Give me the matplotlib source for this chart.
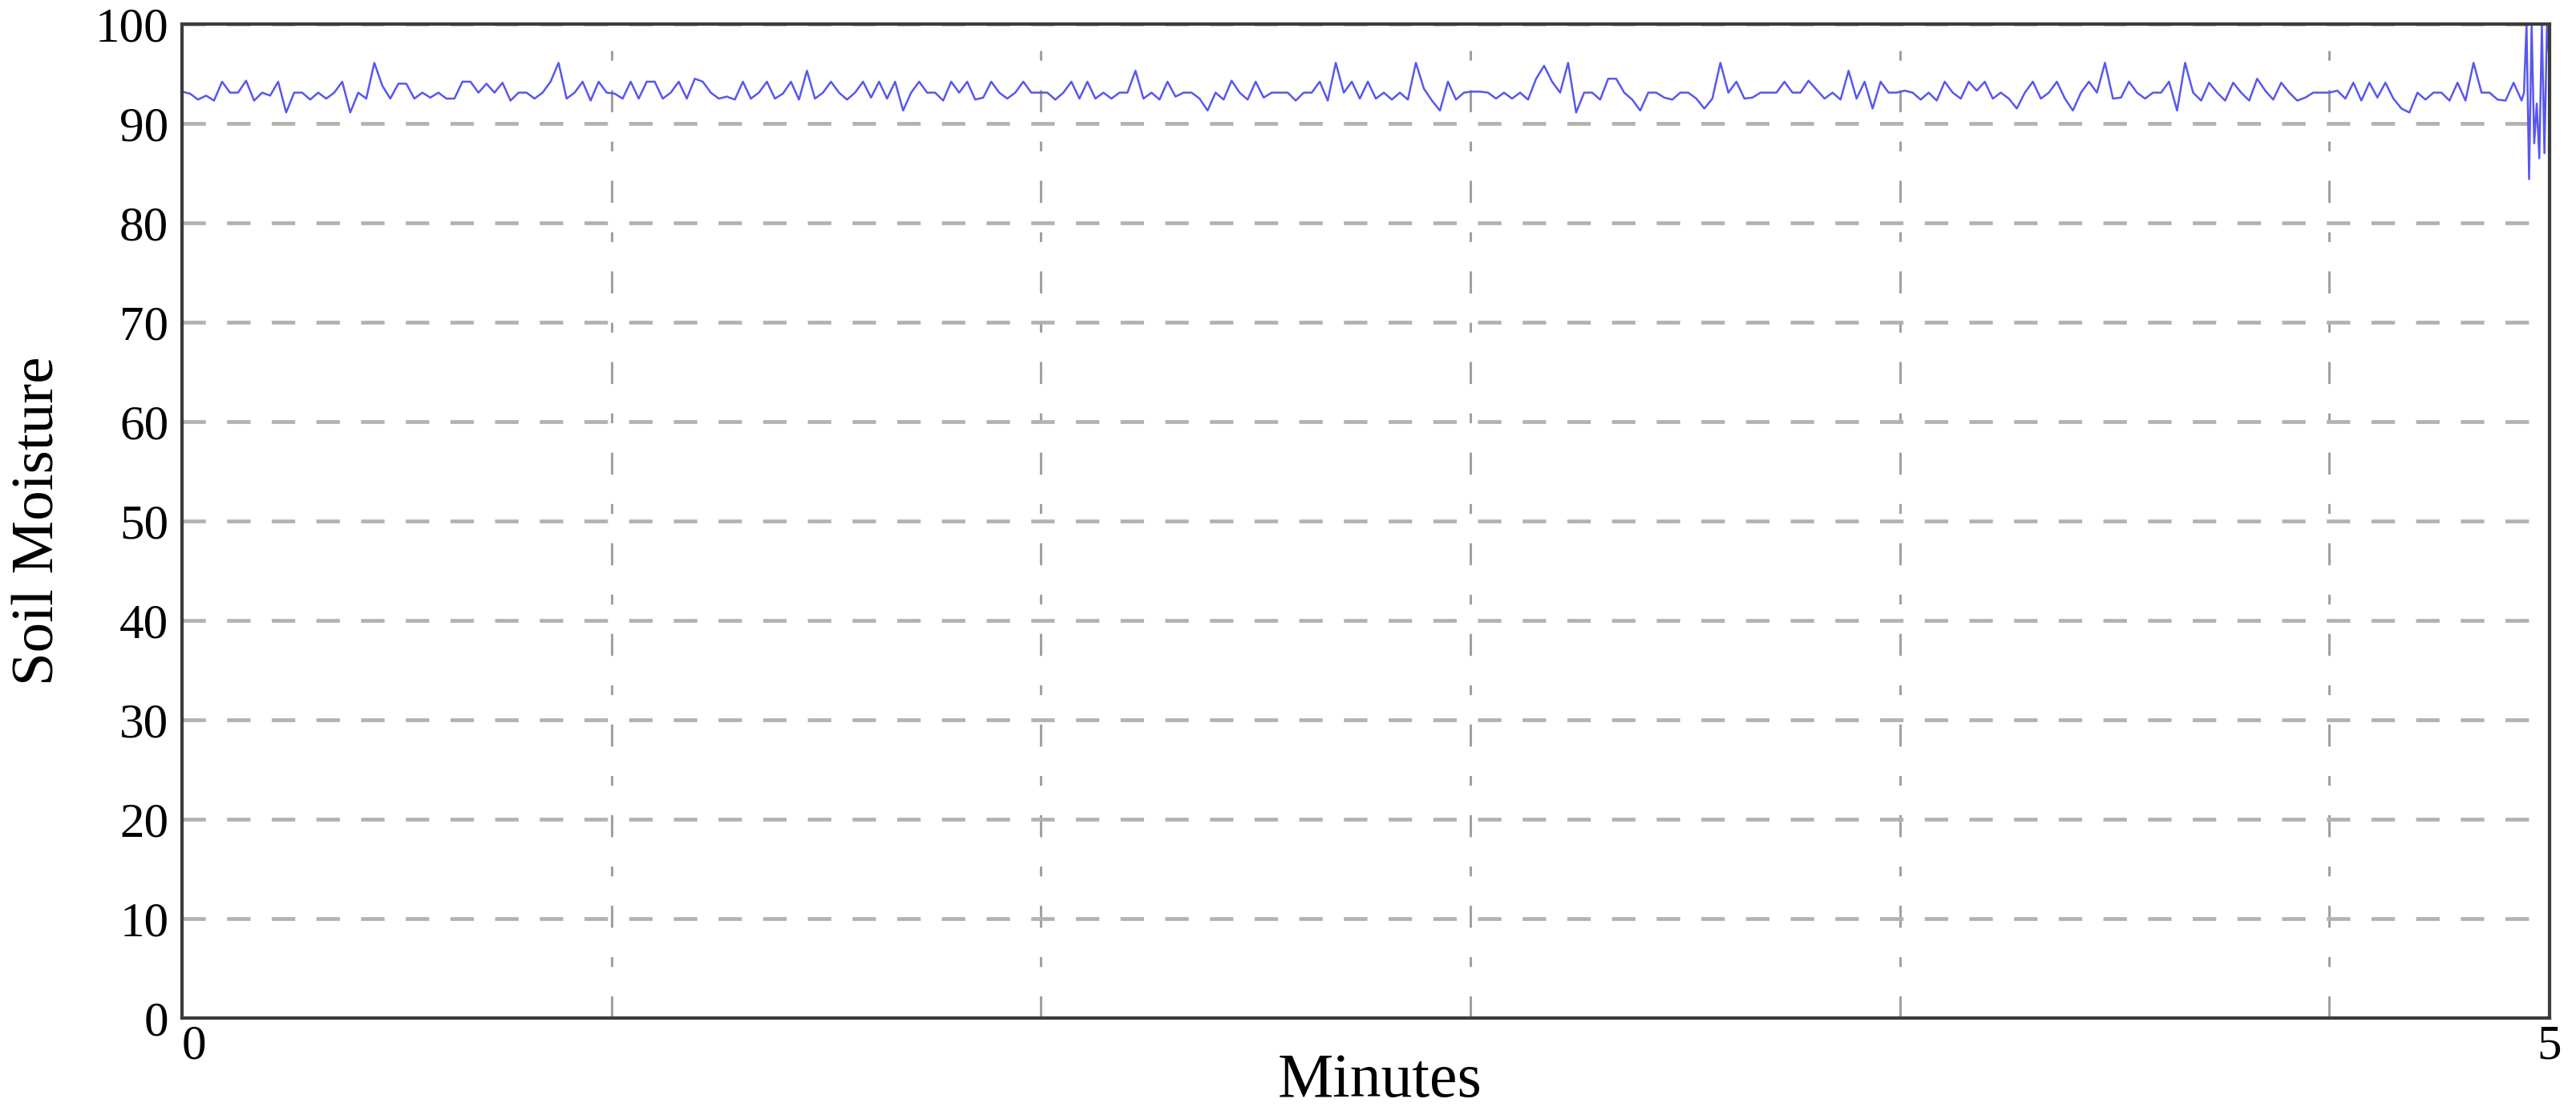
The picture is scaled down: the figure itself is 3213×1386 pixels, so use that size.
import numpy as np
import matplotlib
matplotlib.use("Agg")
import matplotlib.pyplot as plt
from matplotlib.ticker import MultipleLocator

# ---------------- data (soil moisture readings) ----------------
seg1 = [93.2, 93.0, 92.4, 92.8, 92.3, 94.2, 93.1, 93.1, 94.3, 92.3,
        93.1, 92.8, 94.2, 91.1, 93.1, 93.1, 92.4, 93.1, 92.5, 93.1,
        94.2, 91.1, 93.1, 92.5, 96.1, 93.8, 92.5, 94.0, 94.0, 92.5,
        93.1, 92.6, 93.1, 92.5, 92.5, 94.2, 94.2, 93.1, 94.0, 93.1,
        94.1, 92.3, 93.1, 93.1, 92.5, 93.1, 94.2, 96.1, 92.5, 93.1]
seg2 = [94.2, 92.3, 94.2, 93.1, 93.0, 92.5, 94.2, 92.5, 94.2, 94.2,
        92.5, 93.1, 94.2, 92.5, 94.5, 94.2, 93.1, 92.5, 92.7, 92.4,
        94.2, 92.5, 93.1, 94.2, 92.5, 93.0, 94.2, 92.4, 95.3, 92.5,
        93.1, 94.2, 93.1, 92.4, 93.1, 94.2, 92.6, 94.2, 92.5, 94.2,
        91.3, 93.1, 94.2, 93.1, 93.1, 92.3, 94.2, 93.1, 94.2, 92.4]
seg3 = [92.6, 94.2, 93.1, 92.5, 93.1, 94.2, 93.1, 93.1, 93.1, 92.4,
        93.1, 94.2, 92.5, 94.2, 92.5, 93.1, 92.5, 93.1, 93.1, 95.3,
        92.5, 93.1, 92.4, 94.2, 92.7, 93.1, 93.1, 92.5, 91.3, 93.1,
        92.4, 94.3, 93.1, 92.4, 94.2, 92.6, 93.1, 93.1, 93.1, 92.3,
        93.1, 93.1, 94.2, 92.3, 96.1, 93.1, 94.2, 92.5, 94.2, 92.5]
seg4 = [93.1, 92.4, 93.1, 92.4, 96.1, 93.5, 92.3, 91.3, 94.2, 92.4,
        93.1, 93.2, 93.2, 93.1, 92.5, 93.1, 92.5, 93.1, 92.4, 94.5,
        95.8, 94.2, 93.1, 96.1, 91.1, 93.1, 93.1, 92.4, 94.5, 94.5,
        93.1, 92.4, 91.3, 93.1, 93.1, 92.6, 92.4, 93.1, 93.1, 92.5,
        91.5, 92.5, 96.1, 93.1, 94.2, 92.5, 92.6, 93.1, 93.1, 93.1]
seg5 = [94.2, 93.1, 93.1, 94.3, 93.4, 92.5, 93.1, 92.4, 95.3, 92.5,
        94.2, 91.5, 94.2, 93.1, 93.1, 93.3, 93.1, 92.4, 93.1, 92.3,
        94.2, 93.1, 92.5, 94.2, 93.3, 94.2, 92.5, 93.1, 92.5, 91.5,
        93.1, 94.2, 92.5, 93.1, 94.2, 92.5, 91.3, 93.1, 94.2, 93.1,
        96.1, 92.5, 92.6, 94.2, 93.1, 92.5, 93.1, 93.1, 94.2, 91.3]
seg6 = [96.1, 93.1, 92.3, 94.1, 93.1, 92.3, 94.1, 93.1, 92.3, 94.5,
        93.3, 92.4, 94.1, 93.1, 92.3, 92.6, 93.1, 93.1, 93.1, 93.3,
        92.5, 94.1, 92.3, 94.1, 92.6, 94.1, 92.5, 91.5, 91.1, 93.1,
        92.4, 93.1, 93.1, 92.3, 94.1, 92.3, 96.1, 93.1, 93.1, 92.4,
        92.3, 94.1, 92.3]
# final burst of readings at the very end of the record
burst = [93.1, 100.0, 84.4, 100.0, 88.0, 92.0, 86.5, 100.0, 87.0, 100.0, 96.0]

moisture_main = seg1 + seg2 + seg3 + seg4 + seg5 + seg6
main_end_min = 4.941      # time of last regular reading (minutes)
burst_start_min = 4.946   # time the final burst begins (minutes)
x_end_min = 5.0

y_ticks = [0, 10, 20, 30, 40, 50, 60, 70, 80, 90, 100]
x_ticks = [0, 5]
x_tick_labels = ["0", "5"]
x_label = "Minutes"
y_label = "Soil Moisture"

# ---------------- figure ----------------
plt.rcParams["font.family"] = ["Liberation Serif", "DejaVu Serif"]
DPI = 200
fig = plt.figure(figsize=(3213 / DPI, 1386 / DPI), dpi=DPI)
ax = fig.add_axes([227 / 3213, 116 / 1386, 2953 / 3213, 1240 / 1386])

t_main = np.linspace(0, main_end_min, len(moisture_main))
t_burst = np.linspace(burst_start_min, x_end_min, len(burst))
t_all = np.concatenate([t_main, t_burst])
y_all = np.concatenate([moisture_main, burst])

ax.plot(t_all, y_all, color="#5757f0", lw=0.9, zorder=3, clip_on=True)

ax.set_xlim(0, x_end_min)
ax.set_ylim(0, 100)

ax.set_yticks(y_ticks)
ax.set_xticks(x_ticks)
ax.set_xticklabels(x_tick_labels)
ax.xaxis.set_minor_locator(MultipleLocator(0.907))

ax.tick_params(axis="both", which="both", length=0)
ax.tick_params(axis="y", labelsize=22, pad=6)
ax.tick_params(axis="x", labelsize=22, pad=3)
labs = ax.get_xticklabels()
labs[0].set_ha("left")

# grids
ax.grid(True, axis="y", which="major", color="#b2b2b2", lw=1.7,
        linestyle=(0, (6.2, 5.6)), zorder=1)
ax.grid(True, axis="x", which="minor", color="#a0a0a0", lw=1.1,
        linestyle=(0, (9, 12, 4, 12)), zorder=1)
ax.set_axisbelow(True)

for s in ax.spines.values():
    s.set_color("#3c3c3c")
    s.set_linewidth(1.5)
    s.set_zorder(4)

ax.set_xlabel(x_label, fontsize=28)
ax.xaxis.set_label_coords(0.506, -0.035)
ax.set_ylabel(y_label, fontsize=27, va="center", ha="center", rotation_mode="anchor")
ax.yaxis.set_label_coords(-0.0603, 0.5)

fig.savefig("out.png", dpi=DPI, facecolor="white")
